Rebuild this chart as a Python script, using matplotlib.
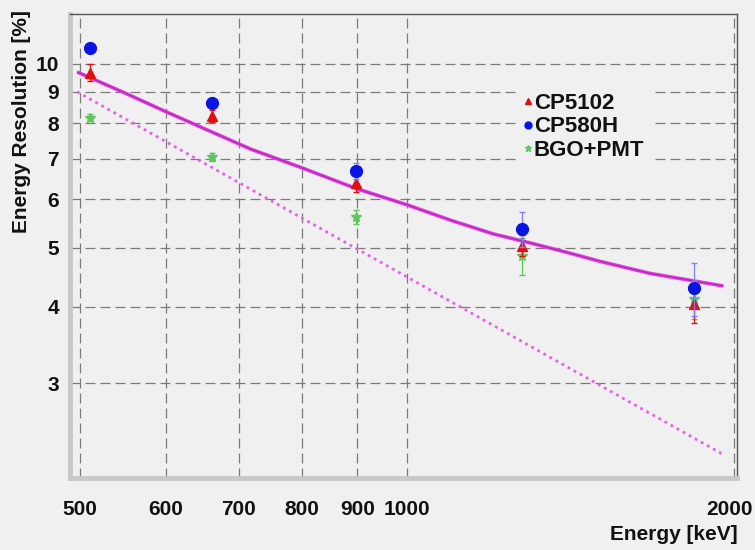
import matplotlib
matplotlib.use("Agg")
import matplotlib.pyplot as plt
import matplotlib.transforms as mtransforms
from matplotlib.lines import Line2D
from matplotlib.ticker import FixedLocator, FixedFormatter, NullLocator

plt.rcParams['font.family'] = ['Liberation Sans', 'DejaVu Sans']
plt.rcParams['font.weight'] = 'bold'

# Data
energy = [511, 662, 898, 1275, 1836]
cp5102 = [9.68, 8.22, 6.38, 5.04, 4.05]
cp5102_err = [0.3, 0.2, 0.2, 0.2, 0.28]
cp580h = [10.6, 8.64, 6.67, 5.37, 4.30]
cp580h_err = [0.15, 0.15, 0.2, 0.35, 0.43]
bgo = [8.17, 7.04, 5.61, 4.85, 4.12]
bgo_err = [0.1, 0.1, 0.15, 0.33, 0.3]

fit_e = [497, 550, 600, 717, 800, 898, 1000, 1096, 1200, 1300, 1400, 1506, 1674, 1955]
fit_r = [9.70, 8.96, 8.35, 7.26, 6.76, 6.25, 5.88, 5.55, 5.27, 5.09, 4.92, 4.75, 4.54, 4.33]
dot_e = [497, 1950]
dot_r = [9.0, 2.30]

xticks = [500, 600, 700, 800, 900, 1000, 2000]
xticklabels = ['500', '600', '700', '800', '900', '1000', '2000']
yticks = [3, 4, 5, 6, 7, 8, 9, 10]
yticklabels = ['3', '4', '5', '6', '7', '8', '9', '10']

bg = '#f0f0f0'
fig = plt.figure(figsize=(7.55, 5.5), dpi=100, facecolor=bg)
ax = fig.add_axes([0.0927, 0.131, 0.8835, 0.8436], facecolor=bg)
ax.set_xscale('log')
ax.set_yscale('log')
ax.set_xlim(489.5, 2013)
ax.set_ylim(2.1, 12.07)

ax.xaxis.set_major_locator(FixedLocator(xticks))
ax.xaxis.set_major_formatter(FixedFormatter(xticklabels))
ax.xaxis.set_minor_locator(NullLocator())
ax.yaxis.set_major_locator(FixedLocator(yticks))
ax.yaxis.set_major_formatter(FixedFormatter(yticklabels))
ax.yaxis.set_minor_locator(NullLocator())
ax.tick_params(length=0, labelsize=15, colors='#111111')
ax.tick_params(axis='x', pad=16)
ax.tick_params(axis='y', pad=8)

ax.grid(True, which='major', color='#7a7a7a', linestyle=(0, (8, 4)), linewidth=0.9)
ax.set_axisbelow(True)

for s in ['top', 'right']:
    ax.spines[s].set_color('#555555')
    ax.spines[s].set_linewidth(1.0)
for s in ['left', 'bottom']:
    ax.spines[s].set_color('#c8c8c8')
    ax.spines[s].set_linewidth(3.5)

# fit curves
ax.plot(fit_e, fit_r, color='#e23ce2', lw=2.6, solid_capstyle='butt',
        solid_joinstyle='round', zorder=3)
ax.plot(fit_e, fit_r, color='#8a1f8a', lw=0.8, alpha=0.6, zorder=3)
ax.plot(dot_e, dot_r, color='#e860e8', lw=2.0, linestyle=(0, (1, 1.5)), zorder=3)

# data
ax.errorbar(energy, bgo, yerr=bgo_err, fmt='*', color='#5ec85e', ms=7.5,
            elinewidth=0.9, capsize=2, zorder=4)
ax.errorbar(energy, cp5102, yerr=cp5102_err, fmt='^', color='#e01010', ms=7.5,
            elinewidth=0.9, capsize=2, zorder=5)
ax.errorbar(energy, cp580h, yerr=cp580h_err, fmt='o', color='#0a14e0', ms=8.5,
            elinewidth=0.9, capsize=2, ecolor='#8080ff', zorder=6)

handles = [
    Line2D([], [], linestyle='none', marker='^', color='#e01010', ms=5),
    Line2D([], [], linestyle='none', marker='o', color='#0a14e0', ms=5),
    Line2D([], [], linestyle='none', marker='*', color='#5ec85e', ms=5),
]
labels = ['CP5102', 'CP580H', 'BGO+PMT']
leg = ax.legend(handles, labels,
                loc='upper left', bbox_to_anchor=(517 / 755, 1 - 86 / 550),
                bbox_transform=fig.transFigure, frameon=True, facecolor=bg,
                edgecolor=bg, framealpha=1, fontsize=16, handlelength=0.4,
                handletextpad=0.05, labelspacing=0.12, borderpad=0.3,
                borderaxespad=0)
for t in leg.get_texts():
    t.set_fontweight('bold')
    t.set_color('#111111')
leg.set_zorder(10)

# nudge the last x tick label slightly left so it stays inside the figure
fig.canvas.draw()
last = ax.get_xticklabels()[-1]
last.set_transform(last.get_transform() +
                   mtransforms.ScaledTranslation(-4 / 100, 0, fig.dpi_scale_trans))

fig.text(738 / 755, 1 - 535 / 550, 'Energy [keV]', ha='right', va='center',
         fontsize=15, fontweight='bold', color='#111111')
fig.text(22 / 755, 1 - 10 / 550, 'Energy Resolution [%]', ha='center', va='top',
         rotation=90, fontsize=15, fontweight='bold', color='#111111')

fig.savefig('out.png', dpi=100, facecolor=bg)
